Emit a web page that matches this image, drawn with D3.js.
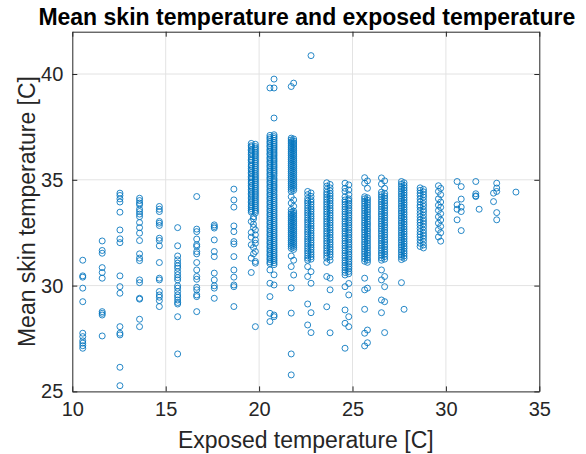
<!DOCTYPE html>
<html><head><meta charset="utf-8">
<script src="https://cdn.jsdelivr.net/npm/d3@7"></script>
<style>body{margin:0;background:#fff}svg{display:block}</style>
</head><body><svg id="c" width="586" height="454"></svg>
<script>
const titleText = "Mean skin temperature and exposed temperature";
const xLabelText = "Exposed temperature [C]";
const yLabelText = "Mean skin temperature [C]";
const xTicks = [10, 15, 20, 25, 30, 35];
const yTicks = [25, 30, 35, 40];
const xDomain = [10, 35];
const yDomain = [25, 42];

// skin temperature readings, one array per exposed-temperature column
const c10_6 = [31.2, 30.46, 30.4, 29.88, 29.24, 27.75, 27.59, 27.39, 27.28, 27.16, 27.04];
const c11_6 = [32.11, 31.66, 31.53, 30.85, 30.62, 30.35, 28.77, 28.69, 28.61, 27.62];
const c12_6 = [34.37, 34.26, 34.1, 33.95, 33.47, 32.63, 32.21, 32.03, 30.46, 29.95, 29.64, 28.06, 27.75, 27.67, 26.14, 25.27];
const c13_6 = [34.13, 34.02, 33.9, 33.82, 33.61, 33.5, 33.38, 33.26, 32.98, 32.74, 32.48, 32.13, 31.5, 31.3, 31.18, 30.27, 30.14, 29.4, 29.36, 28.41, 28.06];
const c14_7 = [33.74, 33.61, 33.5, 33.03, 32.95, 32.84, 32.24, 32.13, 31.88, 31.09, 30.35, 30.27, 29.72, 29.56, 29.45, 29.29, 29.01];
const c15_6 = [32.74, 31.88, 31.4, 31.22, 31.06, 30.93, 30.82, 30.66, 30.51, 30.38, 30.27, 29.99, 29.88, 29.72, 29.56, 29.45, 29.32, 29.2, 29.13, 28.53, 26.77];
const c16_7 = [34.21, 32.67, 32.55, 32.2, 31.93, 31.85, 31.61, 31.5, 31.09, 30.74, 30.43, 30.3, 29.92, 29.8, 29.56, 29.48, 28.77];
const c17_6 = [32.87, 32.79, 32.72, 32.16, 31.61, 31.37, 30.59, 30.27, 29.99, 29.88, 29.4];
const c18_6 = [34.56, 34.05, 33.71, 32.82, 32.55, 32.08, 31.97, 31.37, 30.74, 30.4, 30.03, 29.95, 29.01];
const c19_6a = [36.72, 36.61, 36.55, 36.43, 36.38, 36.27, 36.19, 36.08, 35.97, 35.91, 35.82, 35.7, 35.64, 35.53, 35.46, 35.35, 35.28, 35.16, 35.09, 35.01, 34.9, 34.84, 34.72, 34.66, 34.55, 34.47, 34.36, 34.29, 34.18, 34.1, 33.99, 33.92, 33.81, 33.73, 33.64, 33.55, 33.47, 33.03, 32.51, 32.29, 31.93, 31.3, 30.62];
const c19_6b = [36.68, 36.57, 36.49, 36.4, 36.31, 36.22, 36.13, 36.04, 35.94, 35.86, 35.77, 35.68, 35.59, 35.5, 35.41, 35.31, 35.22, 35.13, 35.04, 34.96, 34.87, 34.78, 34.69, 34.6, 34.51, 34.42, 34.33, 34.24, 34.15, 34.05, 33.96, 33.87, 33.78, 33.69, 33.6, 33.52, 33.43, 32.63, 32.4, 32.16, 32.0, 31.61, 31.14, 31.06, 28.06];
const c19_7 = [33.25, 33.15, 32.9, 32.75, 31.8, 31.5];
const c20_7a = [37.1, 37.0, 36.92, 36.81, 36.73, 36.62, 36.55, 36.44, 36.36, 36.25, 36.18, 36.06, 35.98, 35.87, 35.79, 35.68, 35.6, 35.49, 35.41, 35.3, 35.22, 35.11, 35.03, 34.92, 34.84, 34.73, 34.65, 34.54, 34.46, 34.35, 34.27, 34.16, 34.08, 33.97, 33.89, 33.78, 33.7, 33.59, 33.51, 33.4, 33.32, 33.21, 33.13, 33.02, 32.94, 32.83, 32.75, 32.64, 32.56, 32.45, 32.37, 32.26, 32.18, 32.07, 31.99, 31.88, 31.8, 31.69, 31.61, 31.5, 31.42, 31.31, 31.23, 31.12, 31.04, 30.74, 30.11, 29.48, 28.69, 28.3, 39.34];
const c20_7b = [37.13, 37.04, 36.96, 36.86, 36.77, 36.68, 36.59, 36.5, 36.41, 36.31, 36.22, 36.13, 36.03, 35.94, 35.85, 35.75, 35.66, 35.57, 35.47, 35.38, 35.29, 35.19, 35.07, 34.98, 34.89, 34.79, 34.7, 34.61, 34.51, 34.42, 34.31, 34.22, 34.12, 34.03, 33.93, 33.84, 33.74, 33.65, 33.55, 33.46, 33.36, 33.27, 33.17, 33.08, 32.98, 32.89, 32.79, 32.7, 32.6, 32.51, 32.41, 32.32, 32.22, 32.13, 32.03, 31.94, 31.84, 31.75, 31.65, 31.56, 31.46, 31.37, 31.27, 31.18, 31.08, 30.99, 30.51, 30.03, 28.61, 28.53, 39.76, 39.34, 37.92];
const c21_7a = [36.97, 36.88, 36.79, 36.7, 36.6, 36.51, 36.42, 36.32, 36.23, 36.14, 36.04, 35.95, 35.86, 35.76, 35.67, 35.58, 35.48, 35.39, 35.3, 35.2, 35.11, 35.02, 34.92, 34.83, 34.74, 34.64, 34.55, 34.45, 34.2, 33.9, 33.6, 33.47, 33.38, 33.28, 33.19, 33.09, 33.0, 32.9, 32.81, 32.71, 32.62, 32.52, 32.43, 32.33, 32.24, 32.14, 32.05, 31.95, 31.86, 31.76, 31.4, 30.9, 29.89, 28.7, 26.77, 25.78, 39.41];
const c21_7b = [36.93, 36.83, 36.74, 36.65, 36.55, 36.46, 36.37, 36.27, 36.18, 36.09, 35.99, 35.9, 35.81, 35.71, 35.62, 35.53, 35.43, 35.34, 35.25, 35.15, 35.06, 34.97, 34.87, 34.78, 34.69, 34.59, 34.5, 34.05, 33.75, 33.52, 33.42, 33.33, 33.23, 33.14, 33.04, 32.95, 32.85, 32.76, 32.66, 32.57, 32.47, 32.38, 32.28, 32.19, 32.09, 32.0, 31.9, 31.81, 31.71, 31.2, 30.5, 39.57];
const c22_7a = [34.45, 34.3, 34.12, 34.0, 33.9, 33.78, 33.66, 33.55, 33.44, 33.33, 33.21, 33.1, 32.99, 32.88, 32.76, 32.65, 32.54, 32.43, 32.31, 32.2, 32.09, 31.98, 31.86, 31.75, 31.64, 31.53, 31.41, 31.3, 31.2, 30.9, 30.43, 29.13, 28.14];
const c22_7b = [34.38, 34.22, 34.06, 33.95, 33.84, 33.72, 33.61, 33.5, 33.38, 33.27, 33.16, 33.05, 32.93, 32.82, 32.71, 32.6, 32.48, 32.37, 32.26, 32.15, 32.03, 31.92, 31.81, 31.7, 31.58, 31.47, 31.36, 31.25, 30.66, 30.11, 28.72, 27.78, 40.87];
const c23_7a = [34.86, 34.7, 34.55, 34.41, 34.3, 34.18, 34.07, 33.95, 33.84, 33.72, 33.61, 33.49, 33.38, 33.26, 33.15, 33.03, 32.92, 32.8, 32.69, 32.57, 32.46, 32.34, 32.23, 32.11, 32.0, 31.88, 31.77, 31.65, 31.54, 31.42, 31.3, 31.1, 30.43, 29.0];
const c23_7b = [34.78, 34.62, 34.48, 34.35, 34.24, 34.12, 34.01, 33.89, 33.78, 33.66, 33.55, 33.43, 33.32, 33.2, 33.09, 32.97, 32.86, 32.74, 32.63, 32.51, 32.4, 32.28, 32.17, 32.05, 31.94, 31.82, 31.71, 31.59, 31.48, 31.36, 31.2, 30.35, 29.8, 27.77];
const c24_7a = [34.84, 34.6, 34.45, 34.2, 34.05, 33.95, 33.84, 33.72, 33.61, 33.49, 33.38, 33.26, 33.15, 33.03, 32.92, 32.8, 32.69, 32.57, 32.46, 32.34, 32.23, 32.11, 32.0, 31.88, 31.77, 31.65, 31.54, 31.42, 31.31, 31.19, 31.08, 30.96, 30.85, 30.73, 30.62, 30.5, 29.95, 28.85, 28.22, 27.04];
const c24_7b = [34.76, 34.52, 34.3, 34.1, 34.0, 33.89, 33.78, 33.66, 33.55, 33.43, 33.32, 33.2, 33.09, 32.97, 32.86, 32.74, 32.63, 32.51, 32.4, 32.28, 32.17, 32.05, 31.94, 31.82, 31.71, 31.59, 31.48, 31.36, 31.25, 31.13, 31.02, 30.9, 30.79, 30.67, 30.56, 30.1, 29.56, 28.53, 28.06];
const c25_7a = [35.1, 34.84, 34.2, 34.1, 33.99, 33.88, 33.76, 33.65, 33.54, 33.42, 33.31, 33.2, 33.08, 32.97, 32.86, 32.74, 32.63, 32.52, 32.4, 32.29, 32.18, 32.06, 31.95, 31.84, 31.72, 31.61, 31.5, 31.38, 31.27, 31.15, 30.35, 29.8, 28.88, 27.75, 27.15];
const c25_7b = [34.95, 34.6, 34.15, 34.04, 33.93, 33.82, 33.7, 33.59, 33.48, 33.36, 33.25, 33.14, 33.02, 32.91, 32.8, 32.68, 32.57, 32.46, 32.34, 32.23, 32.12, 32.0, 31.89, 31.78, 31.66, 31.55, 31.44, 31.32, 31.21, 31.1, 29.88, 27.9, 27.3];
const c26_7a = [35.09, 34.8, 34.42, 34.3, 34.19, 34.07, 33.96, 33.84, 33.73, 33.61, 33.5, 33.38, 33.27, 33.15, 33.04, 32.92, 32.81, 32.69, 32.58, 32.46, 32.35, 32.23, 32.12, 32.0, 31.89, 31.77, 31.66, 31.54, 31.43, 31.31, 31.2, 30.74, 30.27, 29.32, 28.72];
const c26_7b = [34.95, 34.6, 34.36, 34.24, 34.13, 34.01, 33.9, 33.78, 33.67, 33.55, 33.44, 33.32, 33.21, 33.09, 32.98, 32.86, 32.75, 32.63, 32.52, 32.4, 32.29, 32.17, 32.06, 31.94, 31.83, 31.71, 31.6, 31.48, 31.37, 31.25, 30.43, 29.95, 29.24, 27.78];
const c27_7a = [34.92, 34.8, 34.68, 34.57, 34.45, 34.34, 34.22, 34.11, 33.99, 33.88, 33.76, 33.65, 33.53, 33.42, 33.3, 33.19, 33.07, 32.96, 32.84, 32.73, 32.61, 32.5, 32.38, 32.27, 32.15, 32.04, 31.92, 31.81, 31.69, 31.58, 31.46, 31.35, 31.23, 30.14];
const c27_7b = [34.86, 34.74, 34.62, 34.51, 34.39, 34.28, 34.16, 34.05, 33.93, 33.82, 33.7, 33.59, 33.47, 33.36, 33.24, 33.13, 33.01, 32.9, 32.78, 32.67, 32.55, 32.44, 32.32, 32.21, 32.09, 31.98, 31.86, 31.75, 31.63, 31.52, 31.4, 31.29, 28.88];
const c28_7a = [34.62, 34.5, 34.37, 34.25, 34.1, 33.95, 33.8, 33.7, 33.55, 33.4, 33.25, 33.1, 32.98, 32.85, 32.7, 32.55, 32.42, 32.3, 32.15, 32.0, 31.85];
const c28_7b = [34.55, 34.43, 34.3, 34.18, 34.03, 33.88, 33.75, 33.6, 33.48, 33.33, 33.18, 33.05, 32.92, 32.78, 32.62, 32.48, 32.35, 32.22, 32.08, 31.92, 31.78];
const c29_7a = [34.72, 34.45, 34.1, 33.8, 33.55, 33.25, 32.95, 32.65, 32.3];
const c29_7b = [34.6, 34.3, 33.95, 33.7, 33.4, 33.1, 32.8, 32.5, 32.1];
const c30_7a = [34.92, 33.82, 33.61, 33.11];
const c30_7b = [34.68, 34.09, 33.71, 33.5, 32.6];
const c31_6 = [34.92, 34.34, 34.24, 34.21];
const c31_8 = [33.61];
const c32_5 = [34.37, 33.97];
const c32_7 = [34.84, 34.61, 34.45, 33.45, 33.11];
const c33_7 = [34.42];

// exposed temperature of each column and its readings
const exposedTemps = [10.56, 11.6, 12.55, 13.6, 14.66, 15.64, 16.66, 17.6, 18.65,
  19.58, 19.8, 19.7, 20.58, 20.8, 21.72, 21.85, 22.6, 22.78, 23.62, 23.8,
  24.6, 24.8, 25.65, 25.8, 26.55, 26.72, 27.62, 27.76, 28.62, 28.8, 29.6, 29.72,
  30.6, 30.82, 31.6, 31.78, 32.55, 32.72, 33.75];
const skinTemps = [c10_6, c11_6, c12_6, c13_6, c14_7, c15_6, c16_7, c17_6, c18_6,
  c19_6a, c19_6b, c19_7, c20_7a, c20_7b, c21_7a, c21_7b, c22_7a, c22_7b, c23_7a, c23_7b,
  c24_7a, c24_7b, c25_7a, c25_7b, c26_7a, c26_7b, c27_7a, c27_7b, c28_7a, c28_7b, c29_7a, c29_7b,
  c30_7a, c30_7b, c31_6, c31_8, c32_5, c32_7, c33_7];

const points = [];
exposedTemps.forEach((xv, i) => skinTemps[i].forEach(yv => points.push({x: xv, y: yv})));

const svg = d3.select("#c");
const L = 72.3, R = 539.3, T = 31.7, B = 391.4;
const x = d3.scaleLinear().domain(xDomain).range([L, R]);
const y = d3.scaleLinear().domain(yDomain).range([B, T]);
const axisColor = "#262626";
const font = "Arial, 'Liberation Sans', Helvetica, sans-serif";

// grid
const g = svg.append("g");
g.selectAll(".gx").data(xTicks.slice(1, -1)).enter().append("line")
  .attr("x1", d => x(d)).attr("x2", d => x(d)).attr("y1", T).attr("y2", B)
  .attr("stroke", "#e3e3e3").attr("stroke-width", 1);
g.selectAll(".gy").data(yTicks.filter(d => d > 25)).enter().append("line")
  .attr("y1", d => y(d)).attr("y2", d => y(d)).attr("x1", L).attr("x2", R)
  .attr("stroke", "#e3e3e3").attr("stroke-width", 1);

// points
svg.append("g").selectAll("circle").data(points).enter().append("circle")
  .attr("cx", d => x(d.x)).attr("cy", d => y(d.y)).attr("r", 3)
  .attr("fill", "none").attr("stroke", "#0072BD").attr("stroke-width", 0.85);

// axes
const tl = 5;
const xb = svg.append("g").attr("transform", `translate(0,${B})`)
  .call(d3.axisBottom(x).tickValues(xTicks).tickSizeInner(-tl).tickSizeOuter(0).tickPadding(10));
const xt = svg.append("g").attr("transform", `translate(0,${T})`)
  .call(d3.axisTop(x).tickValues(xTicks).tickSizeInner(-tl).tickSizeOuter(0).tickFormat(""));
const yl = svg.append("g").attr("transform", `translate(${L},0)`)
  .call(d3.axisLeft(y).tickValues(yTicks).tickSizeInner(-tl).tickSizeOuter(0).tickPadding(9));
const yr = svg.append("g").attr("transform", `translate(${R},0)`)
  .call(d3.axisRight(y).tickValues(yTicks).tickSizeInner(-tl).tickSizeOuter(0).tickFormat(""));
[xb, xt, yl, yr].forEach(a => {
  a.select(".domain").attr("stroke", axisColor).attr("stroke-width", 1);
  a.selectAll(".tick line").attr("stroke", axisColor).attr("stroke-width", 1);
  a.selectAll("text").attr("fill", axisColor).style("font-family", font).style("font-size", "20px");
});

// title and labels
svg.append("text").attr("x", (L + R) / 2 + 1).attr("y", 25).attr("text-anchor", "middle")
  .style("font-family", font).style("font-weight", "bold").style("font-size", "23px")
  .attr("fill", "#000").text(titleText);
svg.append("text").attr("x", (L + R) / 2).attr("y", 448).attr("text-anchor", "middle")
  .style("font-family", font).style("font-size", "23px").attr("fill", axisColor).text(xLabelText);
svg.append("text").attr("transform", `translate(35,${(T + B) / 2}) rotate(-90)`).attr("text-anchor", "middle")
  .style("font-family", font).style("font-size", "23px").attr("fill", axisColor).text(yLabelText);
</script>
</body></html>
